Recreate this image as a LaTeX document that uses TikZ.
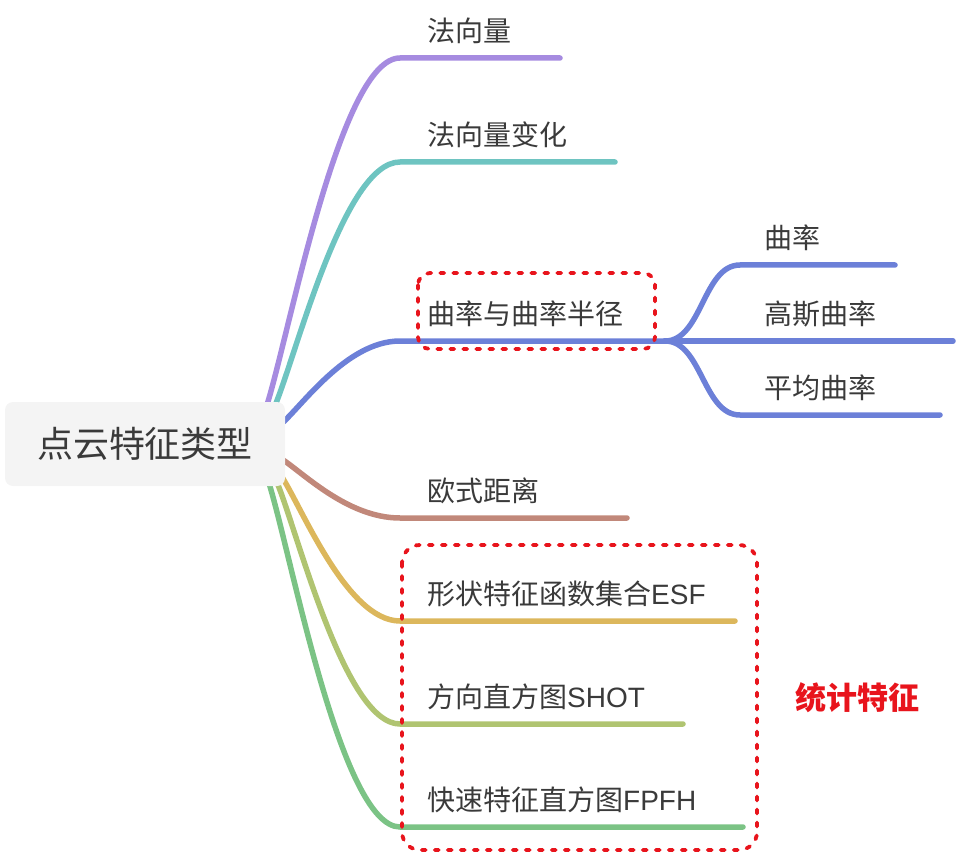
\documentclass[tikz,border=0pt]{standalone}
\usepackage{fontspec}
\setmainfont{Noto Sans CJK SC}
\newfontfamily\latinfont{Liberation Sans}
\usetikzlibrary{positioning}

\definecolor{cpurple}{HTML}{A68BE0}
\definecolor{cteal}{HTML}{6EC4C1}
\definecolor{cblue}{HTML}{6C80D8}
\definecolor{cbrown}{HTML}{C1887A}
\definecolor{cyellow}{HTML}{DCB75C}
\definecolor{clime}{HTML}{B0C471}
\definecolor{cgreen}{HTML}{7BC385}
\definecolor{rootgray}{HTML}{F4F4F4}
\definecolor{txtgray}{HTML}{3A3A3A}
\definecolor{boxred}{HTML}{E8141C}

\begin{document}
\begin{tikzpicture}[x=1pt,y=-1pt,
    branch/.style={line width=5.5pt, line cap=round},
    leaf/.style={anchor=west, inner sep=0pt, text=txtgray, font=\fontsize{28}{32}\selectfont},
    rootbox/.style={fill=rootgray, rounded corners=8pt, minimum width=280pt, minimum height=84pt,
        text=txtgray, font=\fontsize{36}{42}\selectfont},
    redbox/.style={draw=boxred, line width=3.8pt, dash pattern=on 4pt off 9pt, line cap=round},
    stattxt/.style={text=boxred, font=\fontsize{31}{36}\selectfont\bfseries}]
    \useasboundingbox (0,0) rectangle (956,853);
    % main branches
    \foreach \i/\sx/\sy/\ky/\ex/\col/\txt in {
        1/266/408/58/560/cpurple/法向量,
        2/274/408/162/615/cteal/法向量变化,
        3/280/425/341/665/cblue/曲率与曲率半径,
        4/280/458/518/627/cbrown/欧式距离,
        5/280/474/621/735/cyellow/形状特征函数集合{\latinfont ESF},
        6/276/480/724/683/clime/方向直方图{\latinfont SHOT},
        7/268/480/827/743/cgreen/快速特征直方图{\latinfont FPFH}} {
        \coordinate (s\i) at (\sx,\sy);
        \coordinate (k\i) at (400,\ky);
        \coordinate (e\i) at (\ex,\ky);
        \draw[branch, \col] (s\i) .. controls ({\sx+0.17*(400-\sx)},{\sy+0.2*(\ky-\sy)})
            and ({\sx+0.55*(400-\sx)},\ky) .. (k\i) -- (e\i);
        \node[leaf] (n\i) at (427,\ky-27) {\txt};
    }
    % curvature children
    \foreach \j/\ky/\ex/\txt in {1/265/895/曲率, 2/341/953/高斯曲率, 3/415/940/平均曲率} {
        \coordinate (k3\j) at (740,\ky);
        \coordinate (e3\j) at (\ex,\ky);
        \draw[branch, cblue] (e3) .. controls (702,341) and (703,\ky) .. (k3\j) -- (e3\j);
        \node[leaf] (c\j) at (764,\ky-27) {\txt};
    }
    \node[rootbox] (root) at (145,444) {点云特征类型};
    % highlight boxes
    \draw[redbox, rounded corners=12pt] (418,273) rectangle (655,349);
    \draw[redbox, rounded corners=18pt] (402,545) rectangle (757,850);
    \node[stattxt] (stat) at (857,698) {统计特征};
\end{tikzpicture}
\end{document}
